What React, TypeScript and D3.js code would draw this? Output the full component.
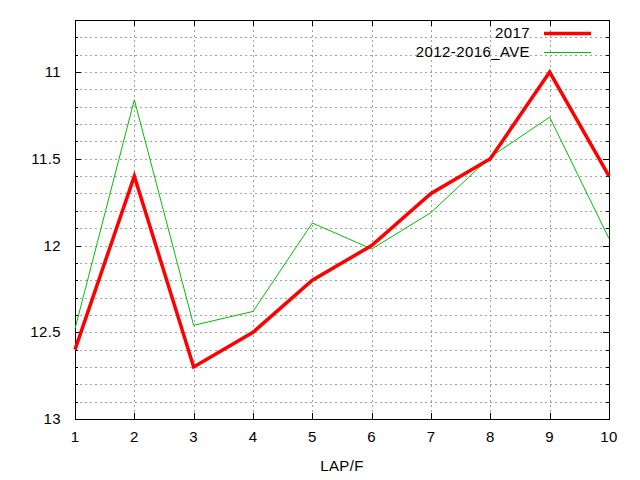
import * as d3 from 'd3';

// laps and values
const laps = [1, 2, 3, 4, 5, 6, 7, 8, 9, 10];
const y2017 = [12.6, 11.6, 12.7, 12.5, 12.2, 12.0, 11.7, 11.5, 11.0, 11.6];
const yAve = [12.48, 11.16, 12.46, 12.38, 11.87, 12.02, 11.81, 11.49, 11.26, 11.96];

const xTicks = [1, 2, 3, 4, 5, 6, 7, 8, 9, 10];
const yMajorTicks = [11, 11.5, 12, 12.5, 13];
const yMinorTicks = [10.8, 10.9, 11.1, 11.2, 11.3, 11.4, 11.6, 11.7, 11.8, 11.9, 12.1, 12.2, 12.3, 12.4, 12.6, 12.7, 12.8, 12.9];

const seriesNames = ['2017', '2012-2016_AVE'];

export default function App() {
  const width = 640;
  const height = 480;
  const marginTop = 20;
  const marginRight = 31;
  const marginBottom = 61;
  const marginLeft = 75;
  const font = '"Liberation Sans", Arial, sans-serif';
  const gridColor = '#a0a0a0';
  const fs = 15;
  const ls = 0.4;

  const x = d3.scaleLinear()
    .domain([1, 10])
    .range([marginLeft, width - marginRight]);

  // inverted y: smaller times at the top
  const y = d3.scaleLinear()
    .domain([10.7, 13])
    .range([marginTop, height - marginBottom]);

  const line = d3.line<number>()
    .x((d, i) => x(laps[i]))
    .y(d => y(d));

  const x0 = x.range()[0];
  const x1 = x.range()[1];
  const y0 = y.range()[0];
  const y1 = y.range()[1];

  return (
    <svg width={width} height={height}
      style={{ position: 'absolute', left: 0, top: 0, background: '#fff' }}>
      {/* grid */}
      <g stroke={gridColor} strokeWidth={1} strokeDasharray="2,3">
        {[...yMajorTicks, ...yMinorTicks].filter(t => t < 13).map(t =>
          <line key={'gy' + t} x1={x0} x2={x1} y1={Math.round(y(t)) + 0.5} y2={Math.round(y(t)) + 0.5} />)}
        {xTicks.filter(t => t > 1 && t < 10).map(t =>
          <line key={'gx' + t} x1={Math.round(x(t)) + 0.5} x2={Math.round(x(t)) + 0.5} y1={y0} y2={y1} />)}
      </g>

      {/* ticks */}
      <g stroke="#000" strokeWidth={1}>
        {yMajorTicks.map(t => {
          const yy = Math.round(y(t)) + 0.5;
          return <g key={'ty' + t}>
            <line x1={x0} x2={x0 + 6} y1={yy} y2={yy} />
            <line x1={x1} x2={x1 - 6} y1={yy} y2={yy} />
          </g>;
        })}
        {yMinorTicks.map(t => {
          const yy = Math.round(y(t)) + 0.5;
          return <g key={'tm' + t}>
            <line x1={x0} x2={x0 + 3} y1={yy} y2={yy} />
            <line x1={x1} x2={x1 - 3} y1={yy} y2={yy} />
          </g>;
        })}
        {xTicks.map(t => {
          const xx = Math.round(x(t)) + 0.5;
          return <g key={'tx' + t}>
            <line x1={xx} x2={xx} y1={y1} y2={y1 - 6} />
            <line x1={xx} x2={xx} y1={y0} y2={y0 + 6} />
          </g>;
        })}
      </g>

      {/* frame */}
      <rect x={x0 + 0.5} y={y0 + 0.5} width={x1 - x0} height={y1 - y0}
        fill="none" stroke="#000" strokeWidth={1} />

      {/* tick labels */}
      <g fontFamily={font} fontSize={fs} fill="#000" letterSpacing={ls}>
        {yMajorTicks.map(t =>
          <text key={'ly' + t} x={x0 - 14} y={y(t) + 5} textAnchor="end">{t}</text>)}
        {xTicks.map(t =>
          <text key={'lx' + t} x={x(t)} y={y1 + 23} textAnchor="middle">{t}</text>)}
        <text x={(x0 + x1) / 2} y={y1 + 52} textAnchor="middle">LAP/F</text>
      </g>

      {/* data */}
      <path d={line(yAve) ?? ''} fill="none" stroke="#00c000" strokeWidth={1} />
      <path d={line(y2017) ?? ''} fill="none" stroke="#ff0000" strokeWidth={3.5} strokeLinejoin="miter" />

      {/* legend */}
      <g fontFamily={font} fontSize={fs} fill="#000" letterSpacing={ls}>
        <text x={530} y={38} textAnchor="end">{seriesNames[0]}</text>
        <line x1={544} x2={591} y1={33.5} y2={33.5} stroke="#ff0000" strokeWidth={3.5} />
        <text x={530} y={57} textAnchor="end">{seriesNames[1]}</text>
        <line x1={544} x2={591} y1={52.5} y2={52.5} stroke="#00c000" strokeWidth={1} />
      </g>
    </svg>
  );
}
